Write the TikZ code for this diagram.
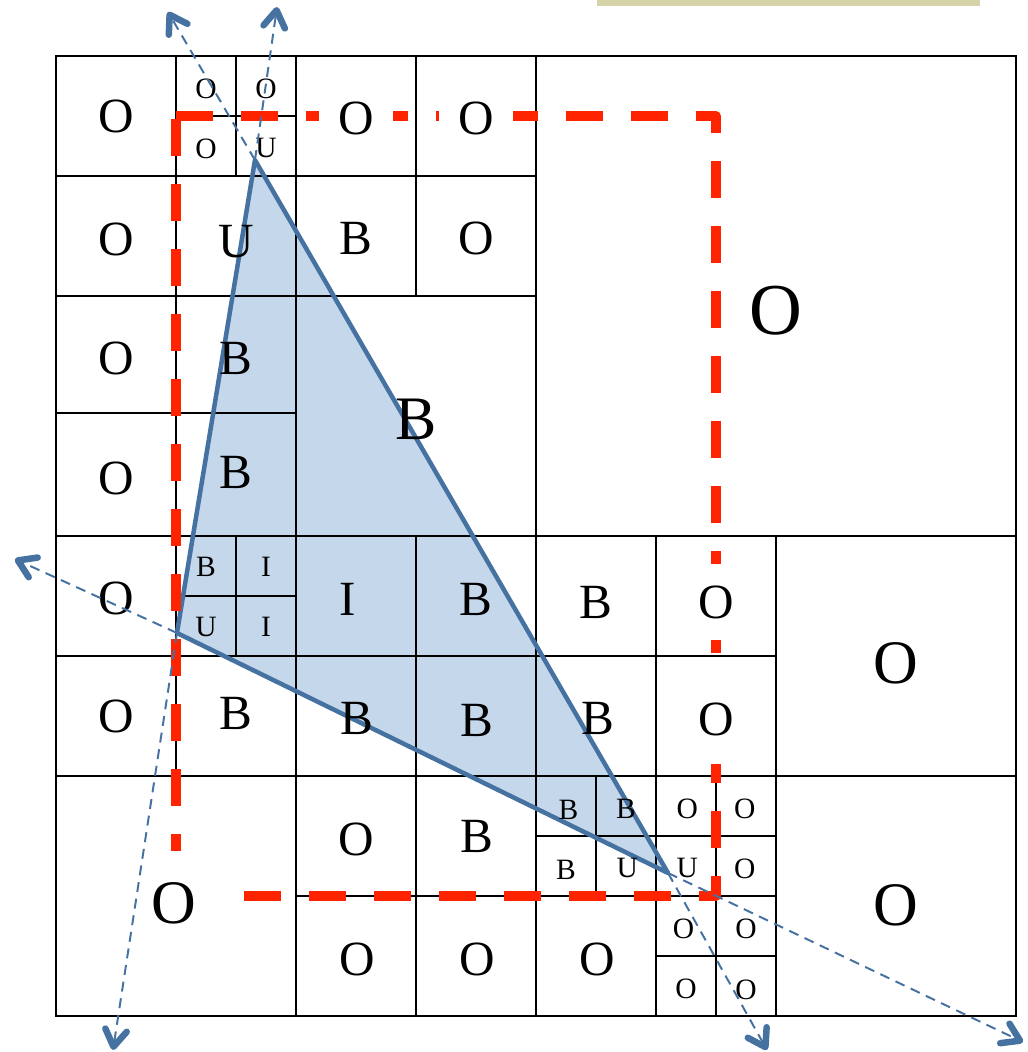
\documentclass[tikz,border=0pt]{standalone}
\usepackage{fontspec}
\setmainfont{Liberation Serif}
\usepackage{xcolor}
\usepackage{tikz}
\usetikzlibrary{arrows.meta}
\definecolor{triazul}{HTML}{4672A2}
\definecolor{trifundo}{HTML}{C5D7EB}
\definecolor{vermelho}{HTML}{FF2400}
\definecolor{bege}{HTML}{D6D3A8}

\begin{document}
\begin{tikzpicture}[x=3cm, y=-3cm,
      letra/.style={font=\fontsize{35}{35}\selectfont, inner sep=0pt},
      letrap/.style={font=\fontsize{21}{21}\selectfont, inner sep=0pt},
      letrag/.style={font=\fontsize{44}{44}\selectfont, inner sep=0pt},
      tapa/.style={fill=white, minimum width=1.85cm, minimum height=1.9cm},
      grade/.style={line width=2.1pt, black},
      janela/.style={vermelho, line width=6.6pt, dash pattern=on 0.925cm off 0.7cm, line join=round},
      raio/.style={triazul, line width=1.4pt, dash pattern=on 0.25cm off 0.17cm,
                   -{Straight Barb[round, length=4.2mm, width=5.4mm, line width=0pt 3.3]}}]
    \useasboundingbox (-0.4667,-0.4667) rectangle (8.1,8.3);
    \fill[bege] (4.508,-0.4667) rectangle (7.7,-0.417);

    \coordinate (topo) at (1.658,0.867);
    \coordinate (esq) at (1.008,4.808);
    \coordinate (dir) at (5.1,6.808);
    \fill[trifundo] (topo) -- (esq) -- (dir) -- cycle;

    \draw[grade] (0,0) rectangle (8,8);
    \draw[grade] (0,4) -- (8,4) (4,0) -- (4,8);
    \draw[grade] (0,1) -- (4,1) (0,2) -- (4,2) (0,2.975) -- (2,2.975) (1,0.5) -- (2,0.5);
    \draw[grade] (1,0) -- (1,6) (2,0) -- (2,8) (3,0) -- (3,2) (1.5,0) -- (1.5,1);
    \draw[grade] (0,5) -- (6,5) (0,6) -- (8,6) (2,7) -- (6,7) (1,4.5) -- (2,4.5) (4,6.5) -- (6,6.5) (5,7.5) -- (6,7.5);
    \draw[grade] (3,4) -- (3,8) (5,4) -- (5,8) (6,4) -- (6,8) (1.5,4) -- (1.5,5) (4.5,6) -- (4.5,7) (5.5,6) -- (5.5,8);

    \draw[triazul, line width=3.2pt, line join=round] (topo) -- (esq) -- (dir) -- cycle;

    \node[letra] (r0c0) at (0.5,0.5) {O};
    \node[letrap] (r0c1a) at (1.25,0.27) {O}; \node[letrap] (r0c1b) at (1.75,0.27) {O};
    \node[letrap] (r0c1c) at (1.25,0.77) {O}; \node[letrap] (r0c1d) at (1.75,0.77) {U};
    \node[letra] (r1c0) at (0.5,1.53) {O}; \node[letra] (r1c1) at (1.5,1.55) {U};
    \node[letra] (r1c2) at (2.5,1.52) {B}; \node[letra] (r1c3) at (3.5,1.52) {O};
    \node[letra] (r2c0) at (0.5,2.52) {O}; \node[letra] (r2c1) at (1.5,2.52) {B};
    \node[letra] (r3c0) at (0.5,3.52) {O}; \node[letra] (r3c1) at (1.5,3.47) {B};
    \node[letrag] (r2c2) at (3,3.03) {B};
    \node[font=\fontsize{52}{52}\selectfont, inner sep=0pt] (quad) at (6,2.12) {O};

    \node[letra] (r4c0) at (0.5,4.52) {O};
    \node[letrap] (r4c1a) at (1.25,4.26) {B}; \node[letrap] (r4c1b) at (1.75,4.26) {I};
    \node[letrap] (r4c1c) at (1.25,4.76) {U}; \node[letrap] (r4c1d) at (1.75,4.76) {I};
    \node[letra] (r4c2) at (2.43,4.53) {I}; \node[letra] (r4c3) at (3.5,4.53) {B};
    \node[letra] (r4c4) at (4.5,4.55) {B};
    \node[letra] (r5c0) at (0.5,5.5) {O}; \node[letra] (r5c1) at (1.5,5.48) {B};
    \node[letra] (r5c2) at (2.51,5.52) {B}; \node[letra] (r5c3) at (3.51,5.54) {B};
    \node[letra] (r5c4) at (4.52,5.52) {B};
    \node[letra] (r6c2) at (2.5,6.53) {O}; \node[letra] (r6c3) at (3.51,6.5) {B};
    \node[letra] (r7c2) at (2.51,7.53) {O}; \node[letra] (r7c3) at (3.51,7.53) {O};
    \node[letra] (r7c4) at (4.51,7.53) {O};
    \node[letrap] (r6c4a) at (4.27,6.28) {B}; \node[letrap] (r6c4b) at (4.75,6.27) {B};
    \node[letrap] (r6c4c) at (4.25,6.78) {B}; \node[letrap] (r6c4d) at (4.76,6.77) {U};
    \node[letrap] (r6c5a) at (5.26,6.27) {O}; \node[letrap] (r6c5b) at (5.74,6.27) {O};
    \node[letrap] (r6c5c) at (5.26,6.77) {U}; \node[letrap] (r6c5d) at (5.74,6.77) {O};
    \node[letrap] (r7c5a) at (5.23,7.27) {O}; \node[letrap] (r7c5b) at (5.75,7.27) {O};
    \node[letrap] (r7c5c) at (5.25,7.77) {O}; \node[letrap] (r7c5d) at (5.75,7.78) {O};
    \node[letrag] (dirsup) at (7,5.06) {O};
    \node[letrag] (dirinf) at (7,7.08) {O};

    \draw[janela] (1,0.5) -- (5.5,0.5) -- (5.5,7) -- (1,7) -- cycle;

    \node[letra, tapa] (r0c2) at (2.5,0.52) {O};
    \node[letra, tapa] (r0c3) at (3.5,0.52) {O};
    \node[letra, tapa] (r4c5) at (5.5,4.55) {O};
    \node[letra, tapa, minimum height=2.2cm] (r5c5) at (5.5,5.53) {O};
    \node[letrag, tapa, minimum width=3.1cm, minimum height=2.6cm] (baixo) at (0.98,7.06) {O};

    \coordinate (p1) at (0.933,-0.367);
    \coordinate (p2) at (1.842,-0.408);
    \coordinate (p3) at (-0.342,4.192);
    \coordinate (p4) at (0.475,8.283);
    \coordinate (p5) at (5.925,8.283);
    \coordinate (p6) at (8.058,8.217);
    \draw[raio] (topo) -- (p1); \draw[raio] (topo) -- (p2);
    \draw[raio] (esq) -- (p3); \draw[raio] (esq) -- (p4);
    \draw[raio] (dir) -- (p5); \draw[raio] (dir) -- (p6);
  \end{tikzpicture}
\end{document}
